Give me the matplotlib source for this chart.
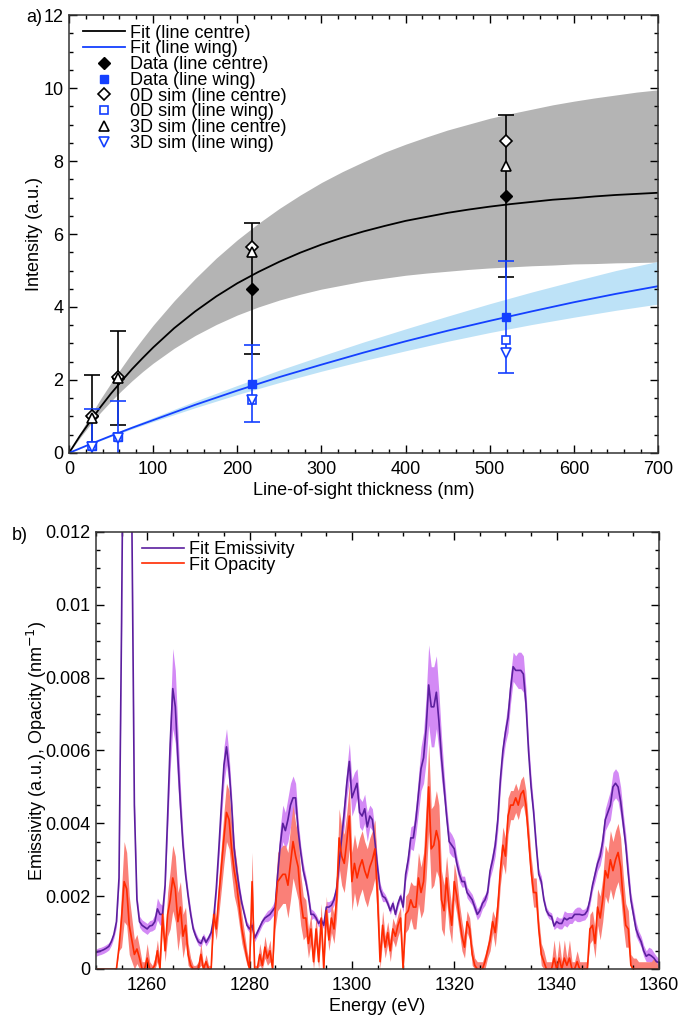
import numpy as np
import matplotlib
matplotlib.use("Agg")
import matplotlib.pyplot as plt
from matplotlib.ticker import MultipleLocator, FuncFormatter
from matplotlib.lines import Line2D

plt.rcParams['font.family'] = ['Liberation Sans', 'DejaVu Sans']
plt.rcParams['font.size'] = 13

# ---- panel a: intensity vs thickness ----
fit_L = [0, 12.5, 25, 37.5, 50, 62.5, 75, 87.5, 100, 125, 150, 175, 200, 225, 250, 275, 300,
         325, 350, 375, 400, 425, 450, 475, 500, 525, 550, 575, 600, 625, 650, 675, 700]
fit_centre = [0, 0.45, 0.86, 1.26, 1.63, 1.97, 2.30, 2.60, 2.89, 3.42, 3.88, 4.29, 4.65, 4.96,
              5.24, 5.49, 5.71, 5.90, 6.07, 6.22, 6.36, 6.47, 6.58, 6.67, 6.75, 6.82, 6.88,
              6.94, 6.98, 7.03, 7.07, 7.10, 7.13]
fit_centre_hi = [0, 0.52, 1.01, 1.48, 1.92, 2.34, 2.75, 3.13, 3.50, 4.17, 4.78, 5.34, 5.84,
                 6.29, 6.70, 7.07, 7.41, 7.71, 7.98, 8.24, 8.46, 8.66, 8.85, 9.01, 9.17, 9.30,
                 9.42, 9.54, 9.64, 9.73, 9.81, 9.89, 9.95]
fit_centre_lo = [0, 0.40, 0.77, 1.11, 1.42, 1.71, 1.98, 2.23, 2.46, 2.87, 3.22, 3.52, 3.78,
                 4.00, 4.19, 4.35, 4.49, 4.60, 4.71, 4.79, 4.87, 4.93, 4.98, 5.03, 5.07, 5.10,
                 5.13, 5.15, 5.18, 5.19, 5.21, 5.22, 5.23]

wing_L = [0, 25, 50, 75, 100, 150, 200, 250, 300, 350, 400, 450, 500, 550, 600, 650, 700]
fit_wing = [0, 0.24, 0.47, 0.69, 0.90, 1.32, 1.71, 2.08, 2.42, 2.75, 3.06, 3.35, 3.62, 3.88, 4.13, 4.36, 4.57]
fit_wing_hi = [0, 0.25, 0.50, 0.74, 0.97, 1.42, 1.85, 2.27, 2.66, 3.04, 3.40, 3.75, 4.09, 4.41, 4.71, 5.00, 5.25]
fit_wing_lo = [0, 0.23, 0.45, 0.66, 0.86, 1.24, 1.60, 1.93, 2.24, 2.53, 2.80, 3.06, 3.30, 3.52, 3.72, 3.91, 4.08]

thick = [27, 58, 217, 519]
data_centre = [1.0, 2.06, 4.5, 7.05]
data_centre_err = [1.15, 1.28, 1.8, 2.22]
data_wing = [0.2, 0.45, 1.9, 3.72]
data_wing_err = [1.0, 0.97, 1.06, 1.54]
sim0d_centre = [1.0, 2.08, 5.65, 8.55]
sim0d_wing = [0.2, 0.45, 1.45, 3.1]
sim3d_centre = [0.95, 2.05, 5.5, 7.85]
sim3d_wing = [0.15, 0.4, 1.45, 2.75]

# ---- panel b: spectra on a 0.5 eV grid 1250..1360 ----
energy = np.arange(1250, 1360.25, 0.5)
emissivity = np.array([
    4.5, 4.8, 5.0, 5.3, 5.7, 6.2, 7.5, 9.5, 13, 25,
    95, 180, 210, 180, 125, 45, 19, 13, 12, 11.5,
    11, 11.8, 12, 13, 16.5, 15, 15, 23, 42, 62,
    77, 72, 58, 45, 34, 26, 20, 15, 11, 9,
    7.5, 7, 8.8, 7.3, 8.5, 10, 14, 22, 33, 45,
    56, 61, 55, 45, 33, 27, 22, 18, 15, 12,
    11, 12, 8.5, 10, 11.5, 13, 14, 14.5, 15, 16,
    17, 26, 34, 40, 38, 41, 45, 47, 47, 38,
    32, 27, 24, 20, 15, 15, 14, 12.5, 13.5, 12,
    17, 17, 17.5, 19, 22, 29, 36, 43, 51, 57,
    47, 49, 51, 43, 42, 44, 39, 42, 41, 35,
    28, 22, 20, 19.5, 18, 16, 18, 15, 18, 20,
    17, 26, 30, 36, 36, 41, 48, 55, 58, 66,
    78, 72, 72, 76, 68, 58, 50, 42, 35, 34,
    33, 29, 26, 24, 24, 21, 20, 19, 17, 15,
    16, 18, 19, 21, 27, 30, 34, 41, 52, 60,
    65, 69, 77, 83, 82, 82, 82, 81, 73, 60,
    50, 43, 34, 26, 24, 19, 16, 14.8, 14.4, 11.8,
    13, 12.5, 12.5, 14, 13.5, 14, 14, 15, 15, 15,
    14.8, 15, 16, 19, 23, 26, 29, 31, 35, 41,
    43, 45, 50, 51, 50, 46, 40, 34, 26, 19,
    15, 11, 9, 7.5, 5, 3.5, 4, 3.6, 3, 2,
    1.8]) * 1e-4
emissivity_err = np.array([
    1, 1, 1, 1, 1, 1, 1, 1, 1.5, 2,
    3, 4, 4, 4, 3, 2, 1.5, 1.5, 1.5, 1.5,
    1.5, 1.5, 1.5, 2, 3, 3, 2.5, 2, 4, 7,
    11, 10, 8, 5, 3, 2, 1.5, 1.5, 1, 1,
    1, 1, 1, 1, 1, 1, 1.5, 2, 3, 4,
    5, 5, 4, 3, 2, 1.5, 1.5, 1, 1, 1,
    1, 1, 1, 1, 1, 1, 1, 1.5, 1.5, 1.5,
    2, 4, 5, 5, 5, 6, 6, 6, 4, 3,
    2, 2, 1.5, 1.5, 1.5, 1, 1, 1, 1, 1,
    1.5, 1.5, 1.5, 1.5, 2, 3, 4, 4, 4, 5,
    5, 5, 4, 4, 4, 4, 4, 3, 3, 3,
    2, 1.5, 1.5, 1, 1, 1, 1, 1, 1, 1,
    1.5, 2, 2.5, 3, 3.5, 4, 5, 6, 7, 9,
    11, 11, 11, 10, 8, 6, 4, 3, 3, 3,
    2.5, 2, 2, 1.5, 1.5, 1.5, 1.5, 1.5, 1.5, 1.5,
    1.5, 1.5, 1.5, 1.5, 2, 2.5, 3, 3, 3, 3,
    3, 4, 4, 4, 4, 5, 5, 5, 4, 3,
    3, 2, 2, 1.5, 1.5, 1, 1, 1, 1, 1,
    1.5, 1.5, 1.5, 2, 2, 1.5, 1.5, 1.5, 2, 2,
    1.5, 1.5, 1.5, 1.5, 1.5, 2, 2, 2.5, 3, 3,
    3.5, 4, 4, 4, 4, 4, 3, 3, 3, 2,
    2, 2, 1.5, 1.5, 1.5, 1.5, 2, 2, 1.5, 1.5,
    1]) * 1e-4
opacity = np.array([
    0, 0, 0, 0, 0, 0, 0, 0, 0, 6,
    14, 24, 22, 12, 8, 4, 5.5, 3, 0, 0,
    3, 0, 0, 1, 5, 0, 15, 5, 15, 19,
    25, 22, 13, 17, 9, 12, 4, 1, 0, 0,
    0, 4, 0, 2, 0, 0, 15, 11, 20, 28,
    36, 43, 41, 33, 27, 23, 17, 11, 7, 3,
    0, 24, 0, 0, 4, 1, 6, 3, 5, 0,
    16, 24, 25, 26, 26, 23, 29, 35, 31, 28,
    19, 14, 14, 7, 11, 2, 11, 2, 14, 0,
    16, 8, 14, 11, 19, 36, 31, 29, 35, 42,
    24, 29, 25, 28, 30, 27, 25, 28, 30, 33,
    20, 2, 12, 6, 10, 5, 11, 9, 12, 14,
    0, 15, 16, 19, 17, 17, 25, 21, 24, 35,
    50, 33, 34, 38, 35, 19, 16, 25, 17, 12,
    24, 20, 14, 9, 6, 13, 11, 4, 1, 0,
    0, 0, 2, 5, 8, 13, 10, 17, 27, 34,
    31, 42, 45, 45, 47, 45, 48, 49, 45, 36,
    27, 21, 21, 11, 4, 2, 0, 0, 0, 3,
    0, 3, 0, 3, 1, 3, 0, 0, 2, 0,
    0, 0, 0, 11, 12, 7, 17, 14, 19, 27,
    25, 30, 27, 30, 32, 28, 19, 12, 11, 1,
    0, 0, 0, 0, 0, 0, 0, 0, 0, 0,
    0]) * 1e-4
opacity_err = np.array([
    0, 0, 0, 0, 0, 0, 0, 0, 0.5, 1,
    8, 11, 10, 8, 6, 4, 4, 3, 2, 2,
    4, 2, 1, 2, 3, 2, 4, 3, 6, 8,
    9, 9, 8, 7, 6, 5, 3, 2, 1, 1,
    2, 3, 1, 2, 1, 1, 3, 3, 5, 6,
    7, 8, 8, 7, 7, 6, 5, 4, 3, 2,
    2, 8, 1, 1, 3, 2, 3, 2, 3, 1,
    5, 8, 8, 8, 8, 9, 10, 10, 9, 9,
    7, 6, 5, 4, 4, 3, 4, 3, 4, 2,
    4, 3, 4, 4, 5, 8, 8, 8, 8, 9,
    8, 8, 8, 8, 8, 8, 8, 8, 8, 8,
    7, 4, 4, 3, 3, 3, 3, 3, 3, 3,
    3, 5, 5, 5, 6, 6, 7, 7, 8, 10,
    12, 11, 11, 11, 10, 8, 7, 6, 6, 5,
    5, 5, 4, 4, 3, 3, 3, 3, 2, 2,
    2, 2, 2, 2, 3, 3, 4, 4, 4, 5,
    5, 5, 4, 4, 4, 4, 4, 4, 4, 4,
    4, 4, 4, 3, 3, 3, 2, 2, 2, 5,
    2, 5, 2, 5, 2, 5, 2, 2, 3, 2,
    2, 2, 2, 4, 4, 4, 5, 6, 6, 7,
    7, 8, 8, 8, 8, 8, 7, 6, 5, 3,
    3, 3, 2, 2, 2, 2, 2, 2, 3, 2,
    0]) * 1e-4

blue = '#1440ff'


def style_axes(ax):
    ax.tick_params(which='both', direction='in', top=True, right=True, labelsize=13)
    ax.tick_params(which='major', length=6, width=1, pad=4)
    ax.tick_params(axis='x', which='major', pad=6)
    ax.tick_params(which='minor', length=3, width=1)
    for s in ax.spines.values():
        s.set_linewidth(1.1)
        s.set_color('#333333')


fig = plt.figure(figsize=(6.94, 10.17), dpi=100)

# ---------- panel a ----------
ax1 = fig.add_axes([0.0994, 0.5546, 0.8487, 0.4306])
ax1.fill_between(fit_L, fit_centre_lo, fit_centre_hi, color='#b4b4b4', lw=0)
ax1.fill_between(wing_L, fit_wing_lo, fit_wing_hi, color='#bde2f7', lw=0)
ax1.plot(fit_L, fit_centre, color='black', lw=1.3)
ax1.plot(wing_L, fit_wing, color=blue, lw=1.3)

ax1.errorbar(thick, data_centre, yerr=data_centre_err, fmt='none', ecolor='black',
             elinewidth=1.2, capsize=5.5, capthick=1.2)
ax1.errorbar(thick, data_wing, yerr=data_wing_err, fmt='none', ecolor=blue,
             elinewidth=1.2, capsize=5.5, capthick=1.2)

ms = 6
h_dc, = ax1.plot(thick, data_centre, 'D', color='black', ms=ms, ls='none')
h_dw, = ax1.plot(thick, data_wing, 's', color=blue, ms=ms, ls='none')
h_0c, = ax1.plot(thick, sim0d_centre, 'D', mfc='white', mec='black', ms=ms, mew=1.2, ls='none')
h_0w, = ax1.plot(thick, sim0d_wing, 's', mfc='white', mec=blue, ms=ms, mew=1.2, ls='none')
h_3c, = ax1.plot(thick, sim3d_centre, '^', mfc='white', mec='black', ms=ms + 1, mew=1.2, ls='none')
h_3w, = ax1.plot(thick, sim3d_wing, 'v', mfc='white', mec=blue, ms=ms + 1, mew=1.2, ls='none')

handles = [Line2D([], [], color='black', lw=1.3), Line2D([], [], color=blue, lw=1.3),
           h_dc, h_dw, h_0c, h_0w, h_3c, h_3w]
labels = ['Fit (line centre)', 'Fit (line wing)', 'Data (line centre)', 'Data (line wing)',
          '0D sim (line centre)', '0D sim (line wing)', '3D sim (line centre)', '3D sim (line wing)']
ax1.legend(handles, labels, loc='upper left', bbox_to_anchor=(0.0, 1.011), frameon=False,
           fontsize=13, handlelength=2.3, handletextpad=0.3, labelspacing=-0.07,
           borderpad=0.0, borderaxespad=0.8, markerscale=0.95)

ax1.set_xlim(0, 700)
ax1.set_ylim(0, 12)
ax1.xaxis.set_major_locator(MultipleLocator(100))
ax1.xaxis.set_minor_locator(MultipleLocator(20))
ax1.yaxis.set_major_locator(MultipleLocator(2))
ax1.yaxis.set_minor_locator(MultipleLocator(0.5))
ax1.set_xlabel('Line-of-sight thickness (nm)', fontsize=13, labelpad=3)
ax1.set_ylabel('Intensity (a.u.)', fontsize=13, labelpad=0)
style_axes(ax1)

# ---------- panel b ----------
ax2 = fig.add_axes([0.1383, 0.0472, 0.8113, 0.4297])
ax2.fill_between(energy, emissivity - emissivity_err, emissivity + emissivity_err,
                 color='#d38af5', lw=0)
ax2.fill_between(energy, np.clip(opacity - opacity_err, 0, None), opacity + opacity_err,
                 color='#fa8078', lw=0)
ax2.plot(energy, emissivity, color='#5b1f9e', lw=1.2, label='Fit Emissivity')
ax2.plot(energy, opacity, color='#ff2a00', lw=1.2, label='Fit Opacity')
ax2.legend(loc='upper left', bbox_to_anchor=(0.066, 1.0), frameon=False, fontsize=13,
           handlelength=2.3, handletextpad=0.3, labelspacing=-0.07, borderpad=0.0,
           borderaxespad=0.5)

ax2.set_xlim(1250, 1360)
ax2.set_ylim(0, 0.012)
ax2.set_xticks(np.arange(1260, 1361, 20))
ax2.xaxis.set_minor_locator(MultipleLocator(5))
ax2.yaxis.set_major_locator(MultipleLocator(0.002))
ax2.yaxis.set_minor_locator(MultipleLocator(0.0005))
ax2.yaxis.set_major_formatter(FuncFormatter(lambda v, p: '%g' % round(v, 4)))
ax2.set_xlabel('Energy (eV)', fontsize=13, labelpad=3)
ax2.set_ylabel('Emissivity (a.u.), Opacity (nm$^{-1}$)', fontsize=13, labelpad=-3)
style_axes(ax2)

fig.text(26 / 694, 1 - 18 / 1017, 'a)', fontsize=13, va='center', ha='left')
fig.text(12 / 694, 1 - 535 / 1017, 'b)', fontsize=13, va='center', ha='left')

fig.savefig('out.png', dpi=100)
